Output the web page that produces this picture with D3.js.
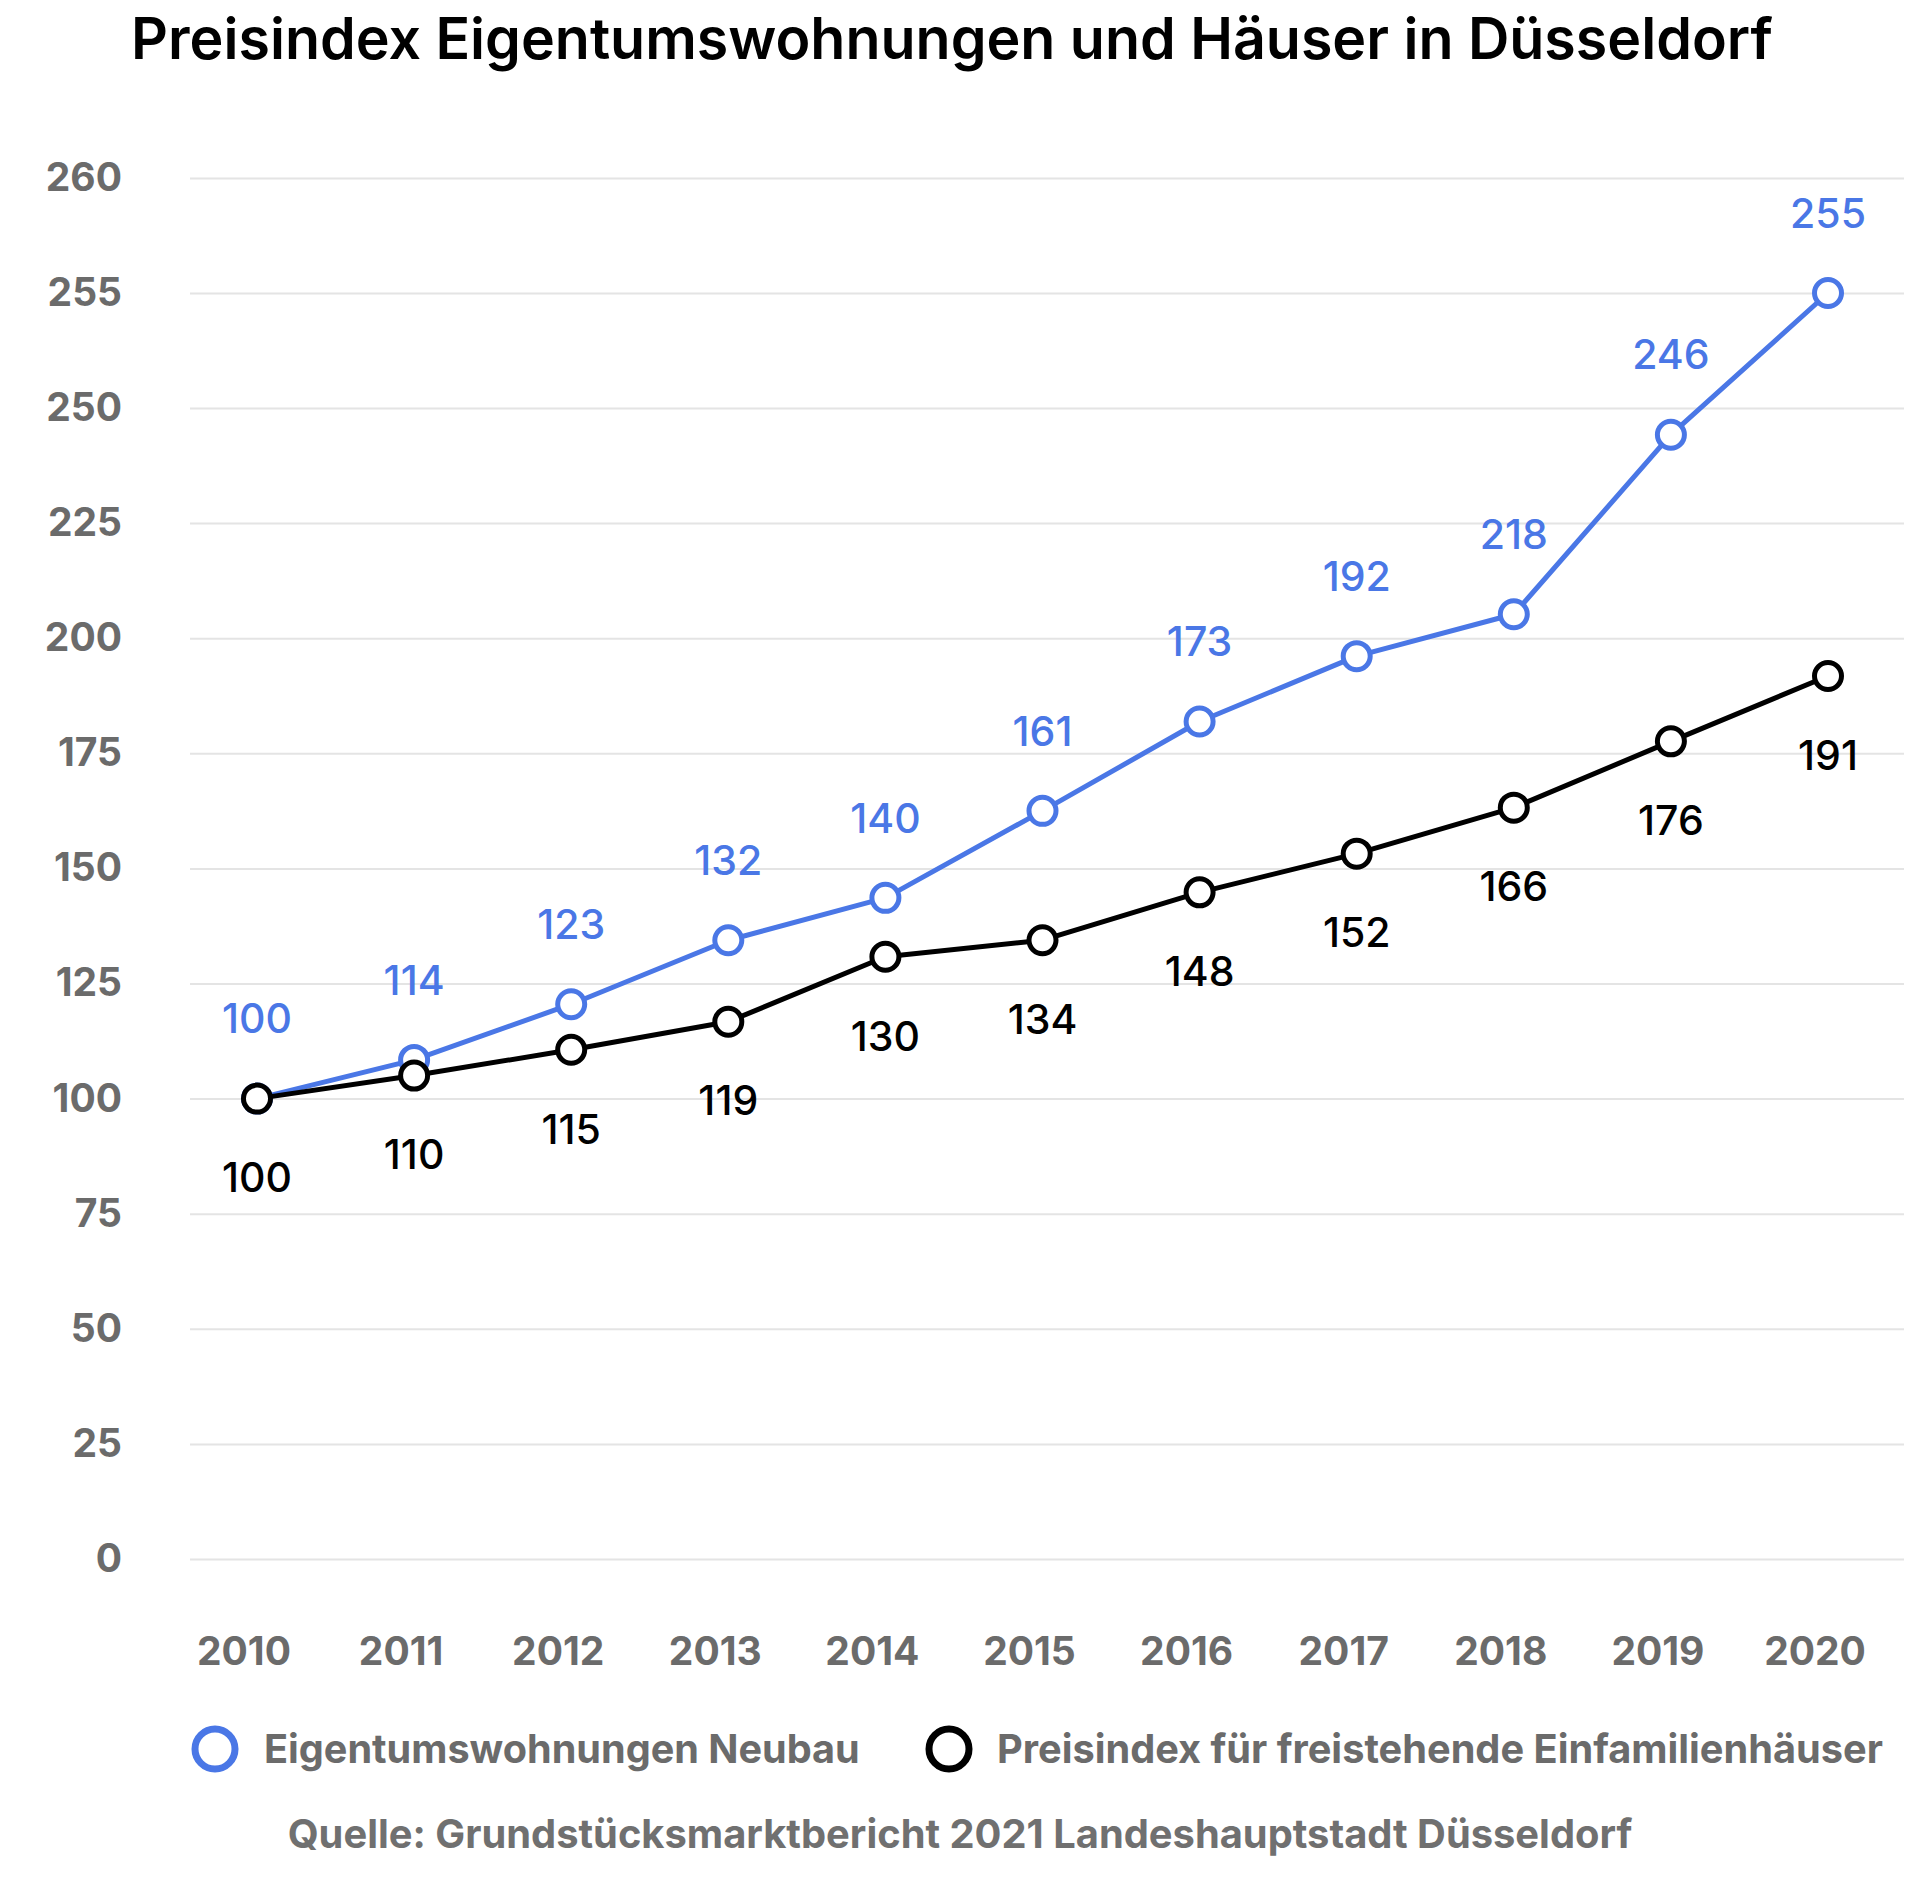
<!DOCTYPE html>
<html>
<head>
<meta charset="utf-8">
<script src="https://cdn.jsdelivr.net/npm/d3@7"></script>
<style>
  body { margin: 0; background: #fff; }
  svg { display: block; font-family: Inter, "Noto Sans", sans-serif; }
</style>
</head>
<body>
<svg id="chart" width="1920" height="1884"></svg>
<script>
// data
const years = [2010, 2011, 2012, 2013, 2014, 2015, 2016, 2017, 2018, 2019, 2020];

// where the points sit on the (uneven) axis
const neubauValues = [100, 108.4, 120.5, 134.4, 143.6, 162.5, 181.9, 196.1, 205.2, 244.2, 255];
const haeuserValues = [100, 105, 110.6, 116.7, 130.8, 134.4, 144.8, 153.2, 163.2, 177.6, 191.8];

// the printed data labels
const neubauLabels = [100, 114, 123, 132, 140, 161, 173, 192, 218, 246, 255];
const haeuserLabels = [100, 110, 115, 119, 130, 134, 148, 152, 166, 176, 191];

const yTicks = [0, 25, 50, 75, 100, 125, 150, 175, 200, 225, 250, 255, 260];

const title = 'Preisindex Eigentumswohnungen und Häuser in Düsseldorf';
const seriesNames = ['Eigentumswohnungen Neubau', 'Preisindex für freistehende Einfamilienhäuser'];
const source = 'Quelle: Grundstücksmarktbericht 2021 Landeshauptstadt Düsseldorf';

const blue = '#4a77e6';
const grey = '#6b6b6b';

const svg = d3.select('#chart');

const left = 190, right = 1904;

const x = d3.scalePoint().domain(years).range([257, 1828]);
// the axis steps are evenly spaced even though 250 -> 255 -> 260 are small steps
const y = d3.scaleLinear().domain([0, 250, 255, 260]).range([1559, 408, 293, 178]);

// fit a text element to a target width by adjusting font-size
const fitText = (sel, target) => {
	const node = sel.node();
	const fs = parseFloat(sel.attr('font-size'));
	const w = node.getComputedTextLength();
	sel.attr('font-size', fs * target / w);
};

// title
svg.append('text')
	.attr('x', 952)
	.attr('y', 59)
	.attr('text-anchor', 'middle')
	.attr('font-size', 52)
	.attr('font-weight', 600)
	.attr('fill', '#000')
	.text(title)
	.call(fitText, 1642);

// y axis + grid
const yAxis = svg.append('g')
	.attr('transform', `translate(${left},0)`)
	.call(d3.axisLeft(y).tickValues(yTicks).tickSize(-(right - left)).tickPadding(68));

yAxis.select('.domain').remove();
yAxis.selectAll('.tick line').attr('stroke', '#e4e4e4').attr('stroke-width', 2);
yAxis.selectAll('.tick text')
	.attr('font-family', 'Inter, sans-serif')
	.attr('font-size', 39)
	.attr('font-weight', 700)
	.attr('fill', grey);

// x labels (sit a bit left of the points, as in the original)
svg.append('g')
	.selectAll('text')
	.data(years)
	.join('text')
	.attr('x', (d) => x(d) - 13)
	.attr('y', 1665)
	.attr('text-anchor', 'middle')
	.attr('font-size', 39)
	.attr('font-weight', 700)
	.attr('fill', grey)
	.text((d) => d);

const line = d3.line()
	.x((d, i) => x(years[i]))
	.y((d) => y(d));

const drawSeries = (values, labels, color, dy) => {
	const g = svg.append('g');
	g.append('path')
		.datum(values)
		.attr('fill', 'none')
		.attr('stroke', color)
		.attr('stroke-width', 5)
		.attr('stroke-linejoin', 'round')
		.attr('d', line);

	g.selectAll('circle')
		.data(values)
		.join('circle')
		.attr('cx', (d, i) => x(years[i]))
		.attr('cy', (d) => y(d))
		.attr('r', 13.5)
		.attr('fill', '#fff')
		.attr('stroke', color)
		.attr('stroke-width', 5);

	g.selectAll('text')
		.data(values)
		.join('text')
		.attr('x', (d, i) => x(years[i]))
		.attr('y', (d) => y(d) + dy)
		.attr('dy', '0.36em')
		.attr('text-anchor', 'middle')
		.attr('font-size', 41)
		.attr('font-weight', 500)
		.attr('fill', color)
		.text((d, i) => labels[i]);
};

drawSeries(neubauValues, neubauLabels, blue, -80);
drawSeries(haeuserValues, haeuserLabels, '#000', 79);

// legend
const legend = [
	{ name: seriesNames[0], color: blue, cx: 215, tx: 264, w: 596 },
	{ name: seriesNames[1], color: '#000', cx: 949, tx: 997, w: 886 }
];

legend.forEach((l) => {
	svg.append('circle')
		.attr('cx', l.cx)
		.attr('cy', 1749)
		.attr('r', 20)
		.attr('fill', '#fff')
		.attr('stroke', l.color)
		.attr('stroke-width', 7);
	svg.append('text')
		.attr('x', l.tx)
		.attr('y', 1763)
		.attr('font-size', 38)
		.attr('font-weight', 700)
		.attr('fill', grey)
		.text(l.name)
		.call(fitText, l.w);
});

// source
svg.append('text')
	.attr('x', 960)
	.attr('y', 1848)
	.attr('text-anchor', 'middle')
	.attr('font-size', 36)
	.attr('font-weight', 700)
	.attr('fill', '#707070')
	.text(source)
	.call(fitText, 1345);
</script>
</body>
</html>
